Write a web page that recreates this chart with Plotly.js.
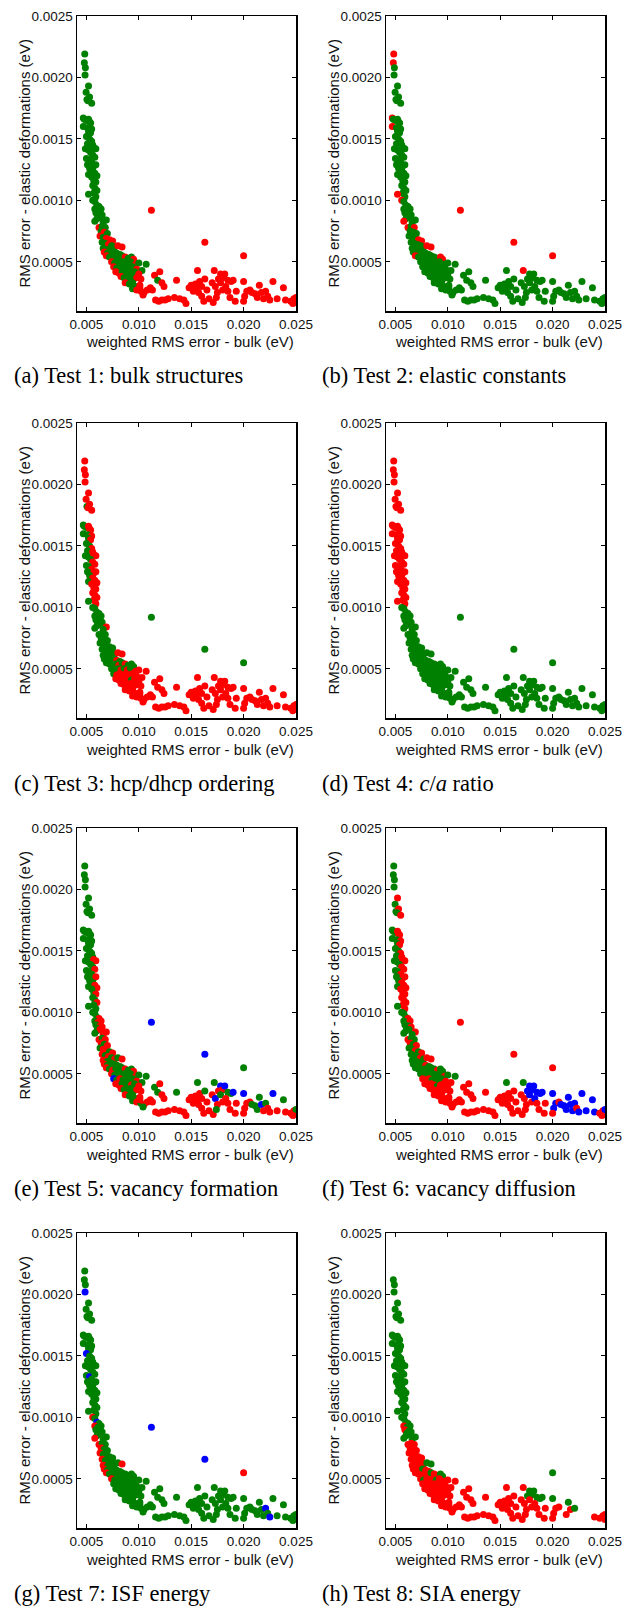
<!DOCTYPE html>
<html><head><meta charset="utf-8">
<script src="https://cdn.plot.ly/plotly-3.0.1.min.js"></script>
<style>html,body{margin:0;padding:0;background:#fff}#chart{width:626px;height:1613px}</style>
</head><body><div id="chart"></div>
<script>
// ---- base point cloud (same potentials in every panel) ----
const topX=[0.00484,0.0048,0.0049,0.00487,0.0052,0.00497,0.00505,0.0053,0.00515,0.0055,0.0047,0.0048,0.0050,0.0052,0.0053,0.0054,0.0047,0.0051,0.0055,0.0052,0.0054];
const topY=[0.00219,0.00212,0.00208,0.00202,0.00193,0.00188,0.00182,0.00184,0.00181,0.00179,0.00167,0.00166,0.00165,0.00166,0.00164,0.00163,0.0016,0.00159,0.00158,0.00156,0.00155];
const bandX=[0.0050,0.0053,0.0055,0.0051,0.0056,0.0049,0.0052,0.0057,0.0059,0.0054,0.0056,0.0050,0.0053,0.0058,0.0055,0.0051,0.0057,0.0059,0.0053,0.0056,0.0052,0.0058,0.0060,0.0055,0.0057,0.0059,0.0056,0.0058,0.0060,0.0057,0.0059,0.0052,0.0056,0.0058];
const bandY=[0.00152,0.00150,0.00148,0.00146,0.00145,0.00142,0.00141,0.00143,0.00142,0.00139,0.00137,0.00134,0.00133,0.00135,0.00131,0.00129,0.00128,0.00129,0.00126,0.00124,0.00121,0.00122,0.00120,0.00119,0.00116,0.00115,0.00112,0.00110,0.00108,0.00106,0.00103,0.00105,0.00100,0.00099];
const kneeX=[0.0060,0.0062,0.0058,0.0061,0.0064,0.0059,0.0063,0.0061,0.0065,0.0060,0.0063,0.0058,0.0069,0.0066];
const kneeY=[0.00096,0.00095,0.00093,0.00092,0.00093,0.00090,0.00089,0.00087,0.00088,0.00085,0.00086,0.00083,0.00084,0.00082];
const bendX=[0.0062,0.0065,0.0068,0.0064,0.0067,0.0070,0.0063,0.0066,0.0069,0.0072,0.0075,0.0065,0.0068,0.0071,0.0074,0.0077,0.0080,0.0084,0.0066,0.0070];
const bendY=[0.00078,0.00079,0.00078,0.00075,0.00074,0.00073,0.00071,0.00070,0.00069,0.00068,0.00067,0.00066,0.00065,0.00064,0.00063,0.00062,0.00063,0.00062,0.00061,0.00060];
const clusterX=[0.0067,0.0070,0.0073,0.0076,0.0079,0.0082,0.0069,0.0072,0.0075,0.0078,0.0081,0.0084,0.0087,0.0090,0.0093,0.0095,
0.0074,0.0077,0.0080,0.0083,0.0086,0.0089,0.0092,0.0097,0.0100,
0.0076,0.0079,0.0082,0.0085,0.0088,0.0091,0.0094,0.0098,0.0103,0.0107,
0.0078,0.0081,0.0084,0.0087,0.0090,0.0093,0.0096,0.0100,
0.0083,0.0086,0.0089,0.0092,0.0095,0.0098,0.0102,
0.0087,0.0091,0.0094,0.0097,0.0101,
0.0094,0.0098,0.0102,0.0105,0.0108,0.0111,0.0104,0.0101];
const clusterY=[0.00058,0.00057,0.00059,0.00058,0.00057,0.00056,0.00055,0.00054,0.00053,0.00054,0.00053,0.00055,0.00054,0.00053,0.00054,0.00052,
0.00050,0.00049,0.00050,0.00049,0.00050,0.00049,0.00050,0.00048,0.00049,
0.00046,0.00045,0.00046,0.00045,0.00046,0.00045,0.00046,0.00044,0.00043,0.00048,
0.00042,0.00041,0.00042,0.00041,0.00040,0.00041,0.00042,0.00040,
0.00038,0.00037,0.00036,0.00038,0.00036,0.00037,0.00036,
0.00033,0.00032,0.00033,0.00030,0.00031,
0.00028,0.00027,0.00026,0.00025,0.00027,0.00029,0.00023,0.00029];
const tailX=[0.0115,0.0120,0.0118,0.0122,0.0124,0.0113,0.0116,0.0119,0.0122,0.0125,
0.0128,0.0136,0.0134,0.0139,0.0143,0.0145,0.0148,0.0150,0.0152,0.0154,
0.0156,0.0155,0.0158,0.0160,0.0157,0.0163,0.0160,0.0165,0.0167,0.0162,
0.0172,0.0170,0.0173,0.0175,0.0171,0.0174,0.0178,0.0180,0.0176,0.0182,
0.0178,0.0185,0.0180,0.0183,0.0188,0.0185,0.0190,0.0193,0.0187,0.0192,
0.0200,0.0201,0.0203,0.0200,0.0206,0.0208,0.0211,0.0213,0.0215,0.0217,
0.0219,0.0221,0.0223,0.0225,0.0228,0.0232,0.0238,0.0240,0.0245,0.0248,
0.0250,0.0250,0.0247];
const tailY=[0.00039,0.00042,0.00035,0.00033,0.00030,0.00027,0.00019,0.00018,0.00019,0.00019,
0.00020,0.00035,0.00021,0.00020,0.00019,0.00016,0.00029,0.00031,0.00026,0.00032,
0.00043,0.00029,0.00034,0.00030,0.00025,0.00036,0.00022,0.00027,0.00020,0.00018,
0.00043,0.00033,0.00030,0.00025,0.00017,0.00021,0.00040,0.00037,0.00036,0.00040,
0.00033,0.00035,0.00027,0.00030,0.00034,0.00026,0.00035,0.00026,0.00021,0.00018,
0.00034,0.00022,0.00026,0.00018,0.00027,0.00025,0.00024,0.00021,0.00031,0.00025,
0.00020,0.00026,0.00022,0.00019,0.00034,0.00020,0.00029,0.00019,0.00018,0.00020,
0.00017,0.00021,0.00016];
const outlierX=[0.0112,0.0163,0.0200];
const outlierY=[0.00092,0.00066,0.00055];

// ---- per-panel colour codes (r = fails, g = passes, b = third class, n = absent) ----
const colorsA=["gggggggggg"+"gggggggggg"+"g","gggggggggg"+"gggggggggg"+"gggggggggg"+"gggg","gggggggggg"+"gggg","rgggrgrgrr"+"rggrggrrgg",
"rgggggrgggggrggr"+"rggggggrg"+"rggggggrgg"+"rrgggggr"+"rggggrr"+"rgggr"+"grrrrrrr",
"rrgrrrrrrr"+"rrrrrrrrrr"+"rrrrrrrrrr"+"rrrrrrrrrr"+"rrrrrrrrrr"+"rrrrrrrrrr"+"rrrrrrrrrr"+"rrr","rrr"];
const colorsB=["rrgggggggg"+"rgggggrggg"+"g","gggggggggg"+"gggggggggg"+"gggggggggg"+"grrg","gggggggggg"+"grgg","rgrggggggr"+"rgggggrrgg",
"ggggggrggg"+"ggggrrgggg"+"gggggggggg"+"gggggggggg"+"gggggggggg"+"gggggggggg"+"ggg",
"gggggggggg"+"gggggggggg"+"gggggggggg"+"rggggggggg"+"gggggggggg"+"gggggggggg"+"gggggggggg"+"ggg","rrr"];
const colorsC=["rrrrrrgrrr"+"gggrrrggrg"+"r","ggrgrggrrg"+"rggrrgrrgr"+"grrrrrrrrr"+"rggg","gggggggggg"+"ggrg","gggggggggg"+"ggggggrrgg",
"ggggrgggggrgrggg"+"gggrgrgrr"+"grrrrrrrrr"+"rrrrrgrr"+"rrrrrrr"+"rrrrr"+"rrrrrrrr",
"rrrrrrrrrr"+"rrrrrrrrrr"+"rrrrrrrrrr"+"rrrrrrrrrr"+"rrrrrrrrrr"+"rrrrrrrrrr"+"rrrrrrrrrr"+"rrr","ggg"];
const colorsD=["rrrrrrrrrr"+"rrrrrrrrrr"+"r","rrrrrrrrrr"+"rrrrrrrrrr"+"rrrrrrrrrr"+"rrgg","gggggggggg"+"gggg","gggggggggg"+"gggggggggg",
"gggggggggg"+"gggggggggg"+"gggggggggg"+"gggggggggg"+"gggggggggg"+"gggggggggg"+"ggg",
"gggggggggg"+"gggggggggg"+"gggggggggg"+"gggggggggg"+"gggggggggg"+"gggggggggg"+"gggggggggg"+"ggg","ggg"];
const colorsE=["gggggggggg"+"gggggggggg"+"g","gggggggrrg"+"gggrgggrgg"+"grrggrggrg"+"gggg","grgrrgrgrg"+"rgrr","rgrrgrgrrg"+"rrgrgrgrrg",
"rgggggrgrgggrggr"+"rggggggrg"+"bgrggggrgg"+"rrgggrgr"+"rggggrr"+"rgggr"+"grgrrrgr",
"grgrrrrrrr"+"rgrrrrrrrr"+"grrrrgrrrr"+"grbrrgbrrb"+"ggrrgrbrrr"+"brrrrggggb"+"rgrrbrgrrr"+"rgr","bbg"];
const colorsF=["ggggrggrgr"+"gggrrrggrg"+"r","ggrgrggrrg"+"rggrrgrrgr"+"grrrrrrrrr"+"rggg","grggrgggrg"+"ggrg","rggrgrggrg"+"rgggrgrrgg",
"ggggrggggggggrgg"+"gggggggrg"+"rrrggggrrg"+"rrrrgrrr"+"rrrrrrr"+"rrrrr"+"rrrrrrrr",
"rrrrrrrrrr"+"rrrrrrrrrr"+"grrrrrrrrr"+"grrrrrbbbb"+"bbrbbrbrrr"+"bbbrrbbbbb"+"bbrbbbbbrr"+"bbr","rrr"];
const colorsG=["gggbgggggg"+"gggggggggg"+"g","bggggggggg"+"ggbggggggg"+"gggggggggg"+"ggrg","bgrggggggg"+"grgg","rggrggrggg"+"grgggggrrg",
"rgggggrggg"+"ggggggrggg"+"gggggggggg"+"gggggggggg"+"gggggggggg"+"gggggggggg"+"ggg",
"gggggggggg"+"gggggggggg"+"gggggggggg"+"gggggggggg"+"gggggggggg"+"gggggggggg"+"gbgbgggggg"+"bgg","bbr"];
const colorsH=["nggggggggg"+"gggggggggg"+"g","gggggggggg"+"gggggggggg"+"gggggggggg"+"gggg","ggrggrgggg"+"gggg","rrrrrrrrrr"+"rrrrrrggrr",
"rrrgrrrrrrrgrrgg"+"rgrrrgrrr"+"rrrrrrrrrr"+"rrrrrrrrrr"+"rrrrrrrrrr"+"rrrrrrrr",
"rrrrrrrrrr"+"rrrrrrrrrr"+"rrrrrrrrrr"+"rrrrrrgggg"+"rgrrgrgrrr"+"grrrrnnrgr"+"ngnnnnnrrr"+"rrn","nng"];

const captions=["(a) Test 1: bulk structures","(b) Test 2: elastic constants","(c) Test 3: hcp/dhcp ordering",
"(d) Test 4: <i>c</i>/<i>a</i> ratio","(e) Test 5: vacancy formation","(f) Test 6: vacancy diffusion",
"(g) Test 7: ISF energy","(h) Test 8: SIA energy"];
const xTickVals=[0.005,0.010,0.015,0.020,0.025];
const xTickText=["0.005","0.010","0.015","0.020","0.025"];
const yTickVals=[0.0005,0.0010,0.0015,0.0020,0.0025];
const yTickText=["0.0005","0.0010","0.0015","0.0020","0.0025"];
const xTitle="weighted RMS error - bulk (eV)";
const yTitle="RMS error - elastic deformations (eV)";

// ---- build ----
const W=626,H=1613;
const segX=[topX,bandX,kneeX,bendX,clusterX,tailX,outlierX];
const segY=[topY,bandY,kneeY,bendY,clusterY,tailY,outlierY];
const panels=[colorsA,colorsB,colorsC,colorsD,colorsE,colorsF,colorsG,colorsH];
const cmap={r:'#ff0000',g:'#008000',b:'#0000ff'};
const cols=[[77,296],[386,605]];
const rowTop=[16,423,828,1233];
const plotH=295;
const fx=v=>v/W, fy=v=>1-v/H;

const data=[];
const layout={width:W,height:H,margin:{l:0,r:0,t:0,b:0},paper_bgcolor:'#fff',plot_bgcolor:'#fff',showlegend:false,annotations:[]};
const tickFont={family:'Liberation Sans, Arial, sans-serif',size:13.5,color:'#111'};
const titleFont={family:'Liberation Sans, Arial, sans-serif',size:15,color:'#111'};

panels.forEach((codes,p)=>{
  const xs=[],ys=[],cs=[];
  for(let s=0;s<segX.length;s++){
    if(codes[s].length!==segX[s].length||segY[s].length!==segX[s].length){
      throw new Error('panel '+p+' seg '+s+' code len '+codes[s].length+' vs '+segX[s].length+'/'+segY[s].length);
    }
    for(let j=0;j<segX[s].length;j++){
      const c=codes[s][j];
      if(c==='n') continue;
      xs.push(segX[s][j]); ys.push(segY[s][j]); cs.push(cmap[c]);
    }
  }
  const n=p+1, sfx=n===1?'':String(n);
  data.push({type:'scatter',mode:'markers',x:xs,y:ys,xaxis:'x'+sfx,yaxis:'y'+sfx,
    marker:{size:7,color:cs,line:{width:0}},hoverinfo:'skip'});
  const col=cols[p%2], top=rowTop[Math.floor(p/2)], bot=top+plotH;
  const common={ticks:'inside',ticklen:4,tickwidth:1,tickcolor:'#000',mirror:'ticks',showline:true,
    linecolor:'#000',linewidth:1.5,showgrid:false,zeroline:false,tickfont:tickFont,fixedrange:true};
  layout['xaxis'+sfx]=Object.assign({},common,{domain:[fx(col[0]),fx(col[1])],range:[0.0041,0.025],
    anchor:'y'+sfx,tickmode:'array',tickvals:xTickVals,ticktext:xTickText});
  layout['yaxis'+sfx]=Object.assign({},common,{domain:[fy(bot),fy(top)],range:[0.0001,0.0025],
    anchor:'x'+sfx,tickmode:'array',tickvals:yTickVals,ticktext:yTickText});
  layout.annotations.push({xref:'paper',yref:'paper',x:fx((col[0]+col[1])/2+3),y:fy(top+326),
    xanchor:'center',yanchor:'middle',showarrow:false,text:xTitle,font:titleFont});
  layout.annotations.push({xref:'paper',yref:'paper',x:fx(col[0]-53),y:fy(top+plotH/2),
    xanchor:'center',yanchor:'middle',showarrow:false,text:yTitle,textangle:-90,font:titleFont});
  layout.annotations.push({xref:'paper',yref:'paper',x:fx(p%2===0?12:320),y:fy(top+360),
    xanchor:'left',yanchor:'middle',showarrow:false,text:captions[p],
    font:{family:'Liberation Serif, Times New Roman, serif',size:22.5,color:'#000'}});
});

Plotly.newPlot('chart',data,layout,{staticPlot:true,displayModeBar:false});
</script>
</body></html>
